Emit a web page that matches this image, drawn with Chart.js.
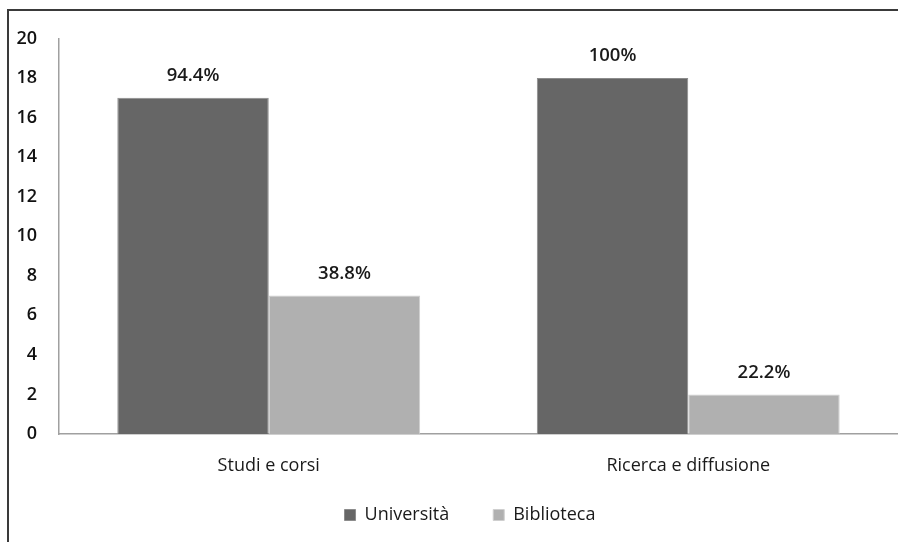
<!DOCTYPE html>
<html>
<head>
<meta charset="utf-8">
<script src="https://cdn.jsdelivr.net/npm/chart.js@4/dist/chart.umd.min.js"></script>
<style>
  html, body { margin: 0; padding: 0; background: #fff; overflow: hidden; }
  #wrap { position: absolute; left: 0; top: 0; width: 898px; height: 542px; overflow: hidden; }
  #frame { position: absolute; left: 7px; top: 9px; width: 891px; height: 533px; border-left: 2px solid #3a3a3a; border-top: 2px solid #3a3a3a; pointer-events: none; }
</style>
</head>
<body>
<div id="wrap"><canvas id="c" width="898" height="542"></canvas><div id="frame"></div></div>
<script>
const categories = ["Studi e corsi", "Ricerca e diffusione"];
const seriesNames = ["Università", "Biblioteca"];
const universitaValues = [17, 18];
const bibliotecaValues = [7, 2];
const universitaLabels = ["94.4%", "100%"];
const bibliotecaLabels = ["38.8%", "22.2%"];
const yTicks = [0, 2, 4, 6, 8, 10, 12, 14, 16, 18, 20];

const FONT = "'Open Sans', 'Noto Sans', sans-serif";
const LEGEND_PAD = 44;
const LEGEND_RESERVED = 30;

const valueLabelPlugin = {
  id: 'valueLabels',
  afterDatasetsDraw(chart) {
    const ctx = chart.ctx;
    ctx.save();
    ctx.font = "600 18.5px " + FONT;
    ctx.fillStyle = '#1a1a1a';
    ctx.textAlign = 'center';
    ctx.textBaseline = 'middle';
    chart.data.datasets.forEach((ds, di) => {
      const meta = chart.getDatasetMeta(di);
      meta.data.forEach((el, i) => {
        ctx.fillText(ds.valueLabels[i], el.x, el.y - 22);
      });
    });
    ctx.restore();
  }
};

const legendPlacePlugin = {
  id: 'legendPlace',
  beforeLayout(chart) {
    const lg = chart.legend;
    if (lg && !lg._fitPatched) {
      const orig = lg.fit.bind(lg);
      lg.fit = function () { orig(); this.height = LEGEND_RESERVED; };
      lg._fitPatched = true;
    }
  },
  afterLayout(chart) {
    const lg = chart.legend;
    if (!lg) return;
    const dx = 470 - (lg.left + lg.right) / 2;
    lg.left += dx; lg.right += dx;
    lg.top = 515 - LEGEND_PAD - 9;
    lg.bottom = chart.height;
    lg.height = lg.bottom - lg.top;
  }
};

new Chart(document.getElementById('c'), {
  type: 'bar',
  data: {
    labels: categories,
    datasets: [
      {
        label: seriesNames[0],
        data: universitaValues,
        valueLabels: universitaLabels,
        backgroundColor: '#666666',
        borderColor: '#8c8c8c',
        borderWidth: 1,
        borderSkipped: 'bottom',
        categoryPercentage: 0.722,
        barPercentage: 1.0
      },
      {
        label: seriesNames[1],
        data: bibliotecaValues,
        valueLabels: bibliotecaLabels,
        backgroundColor: '#b0b0b0',
        borderColor: '#cfcfcf',
        borderWidth: 1,
        borderSkipped: 'bottom',
        categoryPercentage: 0.722,
        barPercentage: 1.0
      }
    ]
  },
  options: {
    responsive: false,
    animation: false,
    devicePixelRatio: 1,
    layout: { padding: { top: 38.5, left: 0, right: 0, bottom: 0 } },
    plugins: {
      legend: {
        display: true,
        position: 'bottom',
        labels: {
          boxWidth: 11,
          boxHeight: 11,
          padding: LEGEND_PAD,
          color: '#1a1a1a',
          font: { family: FONT, size: 18 }
        }
      },
      tooltip: { enabled: false }
    },
    scales: {
      x: {
        grid: { display: false, drawTicks: false },
        border: { display: true, color: '#a0a0a0', width: 1.5 },
        ticks: { color: '#1a1a1a', padding: 21, font: { family: FONT, size: 18 } },
        afterFit(s) {
          const lh = s.chart.legend ? s.chart.legend.height : 0;
          s.height = Math.max(0, 542 - 434 - lh);
        }
      },
      y: {
        min: 0,
        max: 20,
        afterBuildTicks(s) { s.ticks = yTicks.map(v => ({ value: v })); },
        grid: { display: false, drawTicks: false },
        border: { display: true, color: '#a0a0a0', width: 1.5 },
        ticks: { color: '#111', padding: 22, font: { family: FONT, size: 18, weight: '600' } },
        afterFit(s) { s.width = 59; }
      }
    }
  },
  plugins: [valueLabelPlugin, legendPlacePlugin]
});
</script>
</body>
</html>
